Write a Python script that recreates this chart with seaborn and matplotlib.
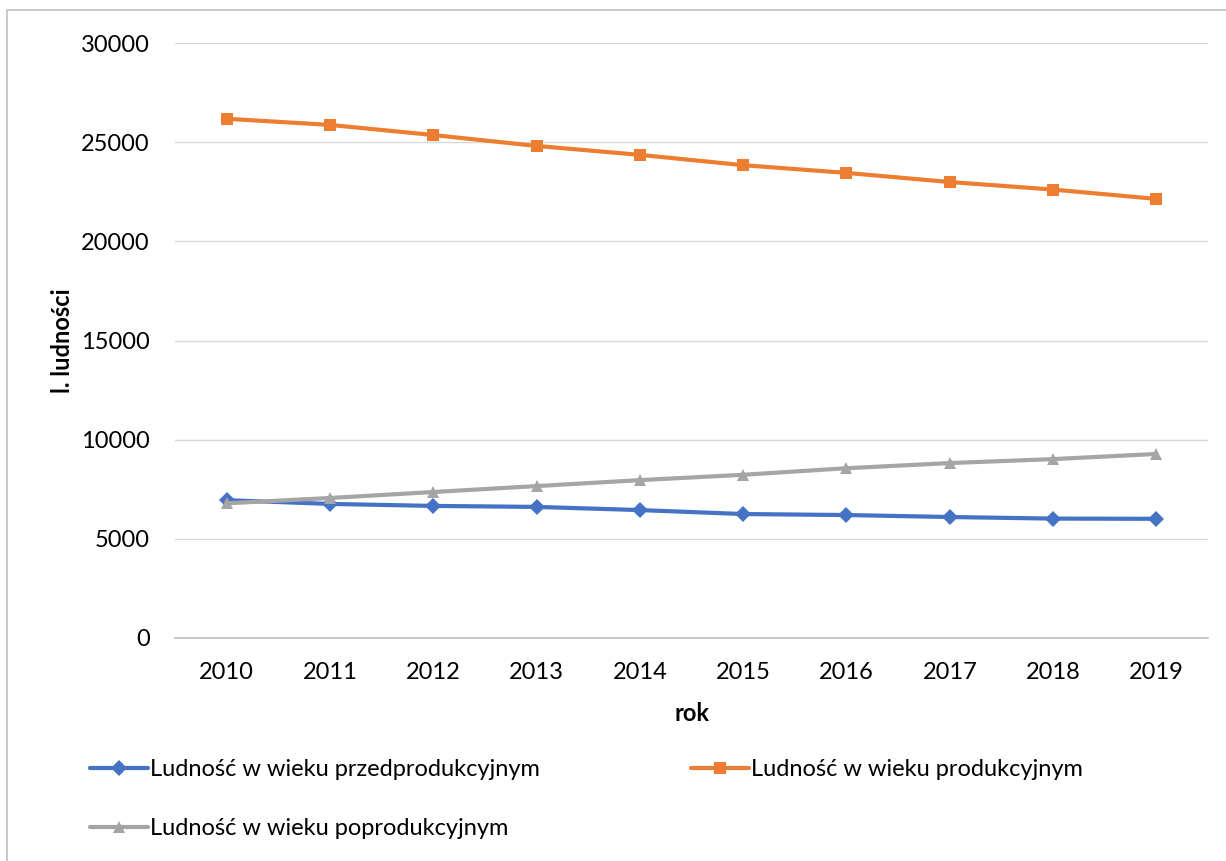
import numpy as np
import pandas as pd
import seaborn as sns
import matplotlib.pyplot as plt
from matplotlib.patches import Rectangle
from matplotlib.ticker import FixedLocator

years = ['2010', '2011', '2012', '2013', '2014', '2015', '2016', '2017', '2018', '2019']
przed = [6950, 6760, 6660, 6610, 6450, 6250, 6200, 6100, 6020, 6010]
prod = [26180, 25870, 25360, 24810, 24360, 23840, 23450, 22990, 22610, 22140]
popro = [6790, 7060, 7360, 7660, 7960, 8230, 8560, 8820, 9020, 9280]

labels = ['Ludność w wieku przedprodukcyjnym',
          'Ludność w wieku produkcyjnym',
          'Ludność w wieku poprodukcyjnym']
colors = ['#4472C4', '#ED7D31', '#A5A5A5']
markers = ['D', 's', '^']
msizes = [8, 9, 9]

sns.set_style('white')
plt.rcParams['font.family'] = ['Lato', 'DejaVu Sans']
plt.rcParams['text.color'] = 'black'
plt.rcParams['xtick.color'] = 'black'
plt.rcParams['ytick.color'] = 'black'
plt.rcParams['axes.labelcolor'] = 'black'

fig = plt.figure(figsize=(12.26, 8.61), dpi=100)
ax = fig.add_axes([175 / 1226, 1 - 638 / 861, (1208 - 175) / 1226, (638 - 43) / 861])

# outer chart border
fig.patches.append(Rectangle((7 / 1226, -0.1), 1.2, 1 - 10 / 861 + 0.1,
                             transform=fig.transFigure, fill=False,
                             edgecolor='#BFBFBF', linewidth=1.2))

handles = []
for vals, lab, col, mk, ms in zip([przed, prod, popro], labels, colors, markers, msizes):
    df = pd.DataFrame({'rok': years, 'val': vals})
    sns.lineplot(data=df, x='rok', y='val', ax=ax, color=col, linewidth=3,
                 marker=mk, markersize=ms, markeredgewidth=0, label=lab, legend=False)
    handles.append(ax.lines[-1])

ax.set_xlim(-0.5, 9.5)
ax.set_ylim(0, 30000)
ax.set_yticks(range(0, 30001, 5000))
ax.yaxis.grid(True, color='#D9D9D9', linewidth=1)
ax.set_axisbelow(True)
for s in ['top', 'right', 'left']:
    ax.spines[s].set_visible(False)
ax.spines['bottom'].set_color('#BFBFBF')
ax.spines['bottom'].set_linewidth(1.2)

ax.xaxis.set_minor_locator(FixedLocator(np.arange(-0.5, 10, 1)))
ax.tick_params(axis='x', which='major', length=0, pad=17, labelsize=17)
ax.tick_params(axis='x', which='minor', length=9, color='#BFBFBF', width=1.2)
ax.tick_params(axis='y', length=0, pad=18, labelsize=17)

ax.set_xlabel('rok', fontsize=17, fontweight='bold', labelpad=14)
ax.set_ylabel('l. ludności', fontsize=17, fontweight='bold', labelpad=5)

order = [handles[0], handles[2], handles[1]]
fig.legend(order, [h.get_label() for h in order], loc='upper left',
           bbox_to_anchor=(90 / 1226, 1 - 759 / 861), ncol=2, frameon=False,
           fontsize=17, handlelength=2.45, handletextpad=0.1,
           columnspacing=6.4, labelspacing=1.6, borderpad=0, borderaxespad=0)

fig.savefig('out.png', dpi=100)
